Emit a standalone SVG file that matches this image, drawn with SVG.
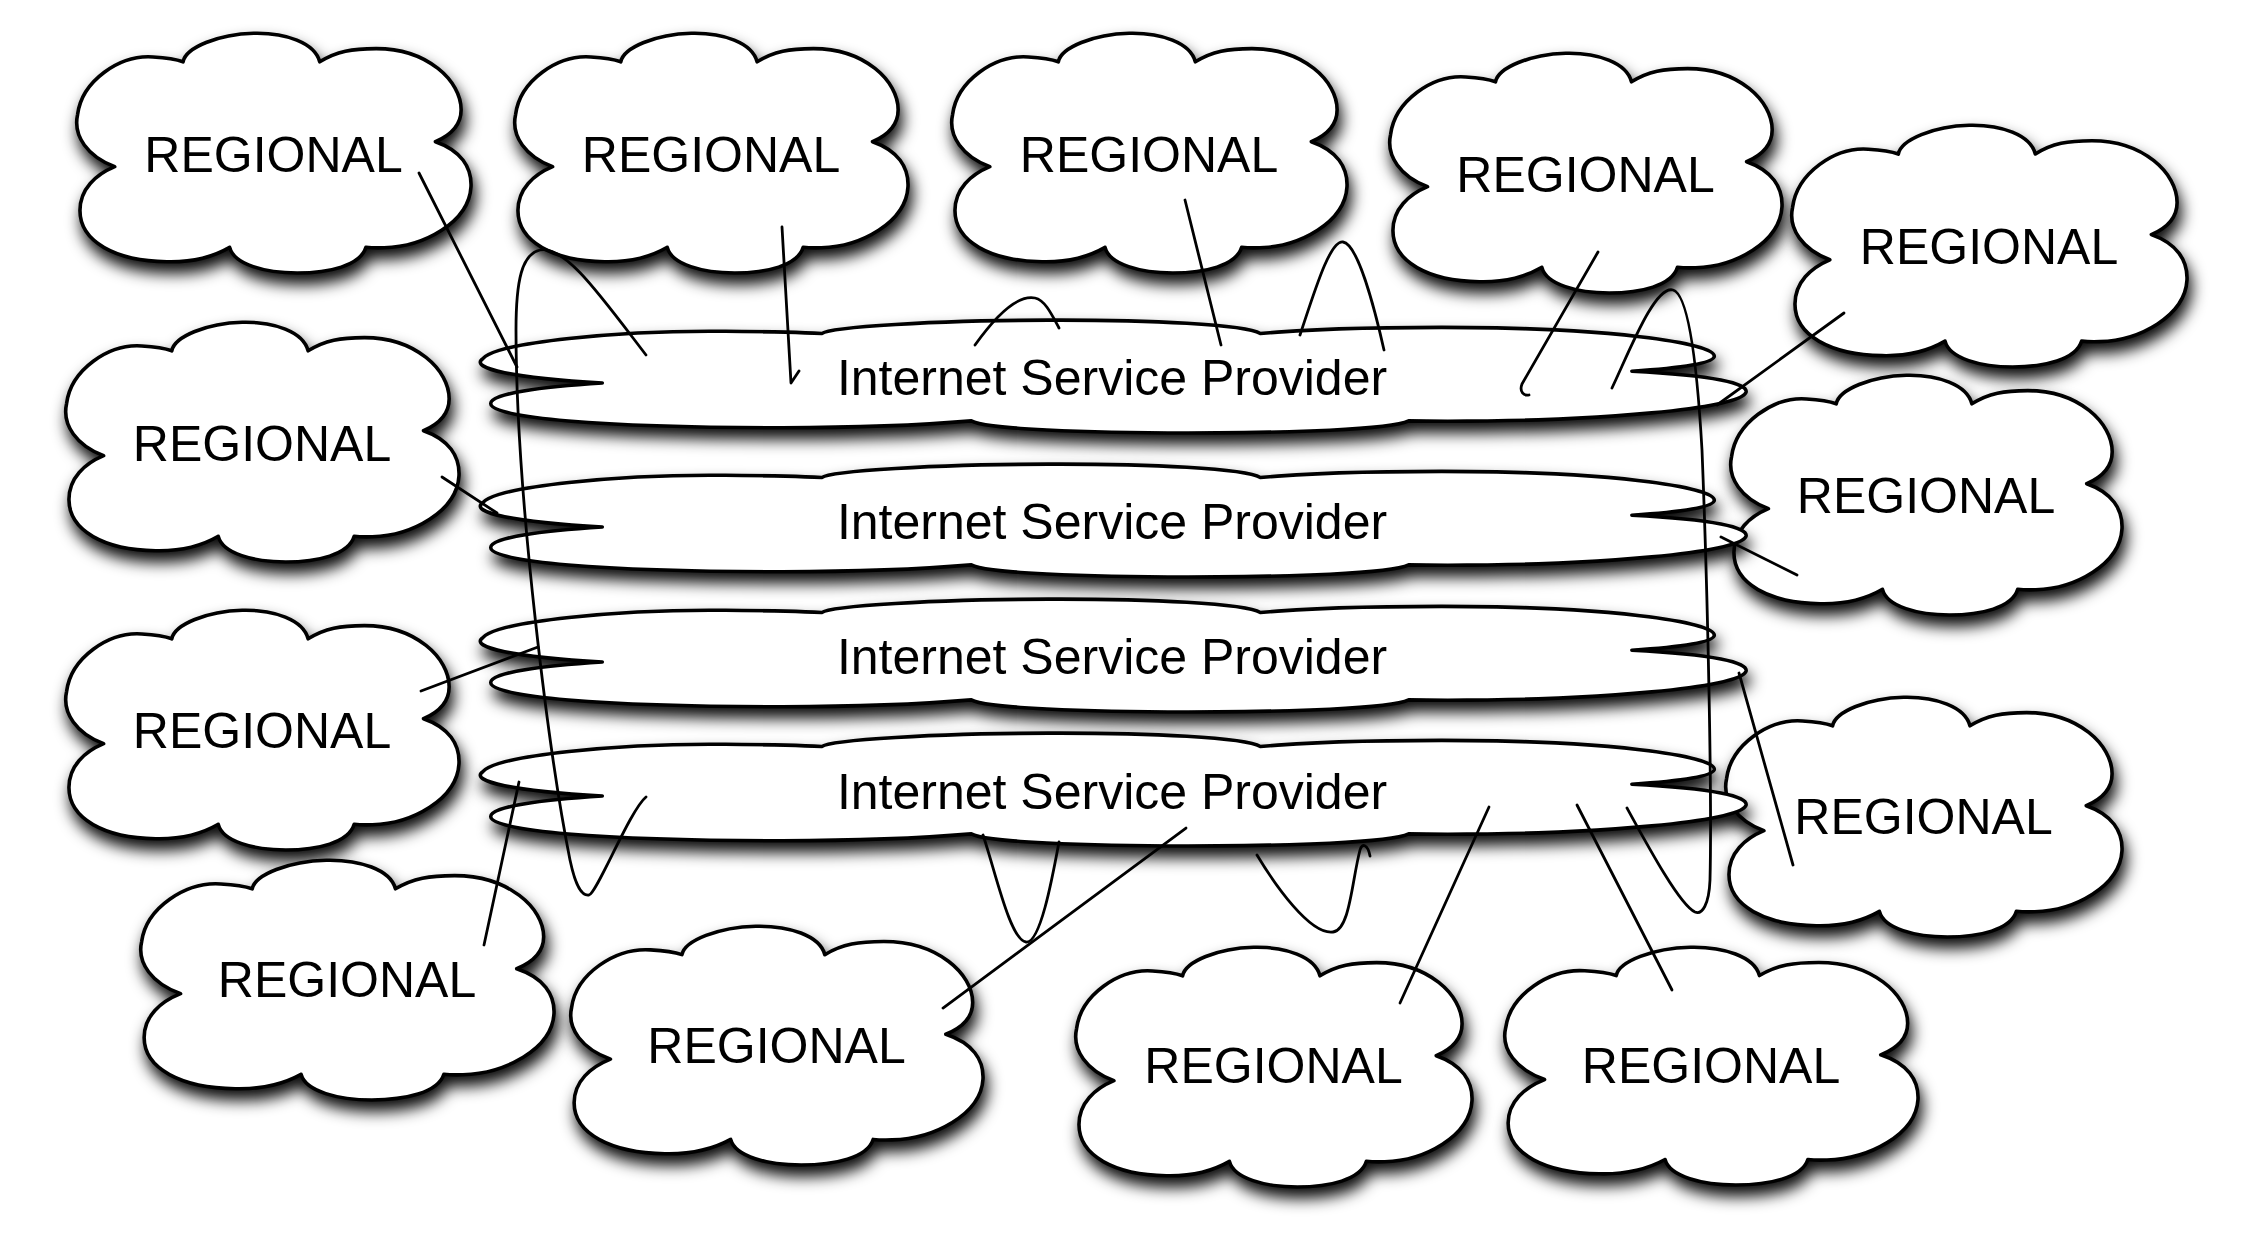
<svg xmlns="http://www.w3.org/2000/svg" xmlns:xlink="http://www.w3.org/1999/xlink" width="2250" height="1258" viewBox="0 0 2250 1258">
<style>
.shape{fill:#fff;stroke:#000;stroke-width:3.6;stroke-linejoin:round}
.lbl{font-family:"Liberation Sans",Arial,Helvetica,sans-serif;font-size:50px;fill:#000;text-anchor:middle}
.conn path{fill:none;stroke:#000;stroke-width:2.8;stroke-linecap:round;stroke-linejoin:round}
</style>
<defs>
<filter id="shadow" x="-8%" y="-20%" width="116%" height="170%">
<feDropShadow dx="3" dy="10" stdDeviation="7.5" flood-color="#000" flood-opacity="0.95"/>
</filter>
<path id="cloud" vector-effect="non-scaling-stroke" d="M98,557 C30,515 -8,430 4,340 C15,200 110,90 195,100 C230,103 255,110 271,120 C278,60 360,5 450,1 C530,-2 605,40 617,120 C660,75 700,65 760,65 C890,65 975,200 975,320 C975,380 950,425 910,453 C975,490 1002,560 1000,640 C995,790 880,890 780,895 C760,896 745,895 734,893 C720,970 640,1000 560,1000 C480,1000 400,965 389,893 C340,940 280,955 230,953 C100,950 10,870 10,740 C10,650 50,590 98,557 Z"/>
</defs>
<rect width="2250" height="1258" fill="#fff"/>

<g id="regional-1"><g filter="url(#shadow)"><use href="#cloud" class="shape" transform="translate(76,33) scale(0.395,0.24)"/></g><text class="lbl" x="273.5" y="172">REGIONAL</text></g>
<g id="regional-2"><g filter="url(#shadow)"><use href="#cloud" class="shape" transform="translate(514,33) scale(0.394,0.24)"/></g><text class="lbl" x="711" y="172">REGIONAL</text></g>
<g id="regional-3"><g filter="url(#shadow)"><use href="#cloud" class="shape" transform="translate(951,33) scale(0.396,0.24)"/></g><text class="lbl" x="1149" y="172">REGIONAL</text></g>
<g id="regional-4"><g filter="url(#shadow)"><use href="#cloud" class="shape" transform="translate(1389,53) scale(0.393,0.24)"/></g><text class="lbl" x="1585.5" y="192">REGIONAL</text></g>
<g id="regional-5"><g filter="url(#shadow)"><use href="#cloud" class="shape" transform="translate(1791,125) scale(0.396,0.242)"/></g><text class="lbl" x="1989" y="264">REGIONAL</text></g>
<g id="regional-6"><g filter="url(#shadow)"><use href="#cloud" class="shape" transform="translate(65,322) scale(0.394,0.24)"/></g><text class="lbl" x="262" y="461">REGIONAL</text></g>
<g id="regional-7"><g filter="url(#shadow)"><use href="#cloud" class="shape" transform="translate(1730,375) scale(0.392,0.24)"/></g><text class="lbl" x="1926" y="513">REGIONAL</text></g>
<g id="regional-8"><g filter="url(#shadow)"><use href="#cloud" class="shape" transform="translate(65,610) scale(0.394,0.24)"/></g><text class="lbl" x="262" y="748">REGIONAL</text></g>
<g id="regional-9"><g filter="url(#shadow)"><use href="#cloud" class="shape" transform="translate(1725,697) scale(0.397,0.24)"/></g><text class="lbl" x="1923.5" y="834">REGIONAL</text></g>
<g id="regional-10"><g filter="url(#shadow)"><use href="#cloud" class="shape" transform="translate(140,860) scale(0.414,0.24)"/></g><text class="lbl" x="347" y="997">REGIONAL</text></g>
<g id="regional-11"><g filter="url(#shadow)"><use href="#cloud" class="shape" transform="translate(570,926) scale(0.413,0.239)"/></g><text class="lbl" x="776.5" y="1063">REGIONAL</text></g>
<g id="regional-12"><g filter="url(#shadow)"><use href="#cloud" class="shape" transform="translate(1075,947) scale(0.397,0.24)"/></g><text class="lbl" x="1273.5" y="1083">REGIONAL</text></g>
<g id="regional-13"><g filter="url(#shadow)"><use href="#cloud" class="shape" transform="translate(1504,947) scale(0.414,0.238)"/></g><text class="lbl" x="1711" y="1083">REGIONAL</text></g>

<g id="isp-1"><g filter="url(#shadow)"><use href="#cloud" class="shape" transform="translate(478,320) scale(1.268,0.113)"/></g><text class="lbl" x="1112" y="395">Internet Service Provider</text></g>
<g id="isp-2"><g filter="url(#shadow)"><use href="#cloud" class="shape" transform="translate(478,464) scale(1.268,0.113)"/></g><text class="lbl" x="1112" y="539">Internet Service Provider</text></g>
<g id="isp-3"><g filter="url(#shadow)"><use href="#cloud" class="shape" transform="translate(478,599) scale(1.268,0.113)"/></g><text class="lbl" x="1112" y="674">Internet Service Provider</text></g>
<g id="isp-4"><g filter="url(#shadow)"><use href="#cloud" class="shape" transform="translate(478,733) scale(1.268,0.113)"/></g><text class="lbl" x="1112" y="809">Internet Service Provider</text></g>

<g id="connectors" class="conn">
<path d="M419,173 L517,367"/>
<path d="M646,355 C600,295 565,245 540,250 C522,254 516,280 516,330 C516,500 550,760 570,860 C576,888 582,896 589,895 C597,893 630,810 646,797"/>
<path d="M782,227 L791,383 L799,371"/>
<path d="M975,345 C1000,310 1020,295 1035,298 C1045,300 1052,315 1059,328"/>
<path d="M1185,200 L1221,345"/>
<path d="M1300,335 C1315,290 1330,240 1343,242 C1358,244 1375,310 1384,350"/>
<path d="M1598,252 L1522,384 C1519,392 1524,396 1529,395"/>
<path d="M1612,388 C1630,350 1655,285 1673,290 C1690,295 1698,380 1702,450 C1708,600 1712,800 1710,880 C1709,905 1702,915 1695,912 C1680,905 1650,850 1627,808"/>
<path d="M1844,313 L1717,405"/>
<path d="M442,477 L497,513"/>
<path d="M1721,537 L1797,575"/>
<path d="M421,691 L538,647"/>
<path d="M1739,673 L1793,865"/>
<path d="M519,782 L484,945"/>
<path d="M983,835 C995,870 1010,940 1026,942 C1040,944 1052,880 1059,842"/>
<path d="M1186,828 L943,1008"/>
<path d="M1257,855 C1275,885 1310,935 1333,932 C1350,930 1352,880 1360,850 C1362,842 1368,845 1370,856"/>
<path d="M1489,807 L1400,1003"/>
<path d="M1577,805 L1672,990"/>
</g>
</svg>
